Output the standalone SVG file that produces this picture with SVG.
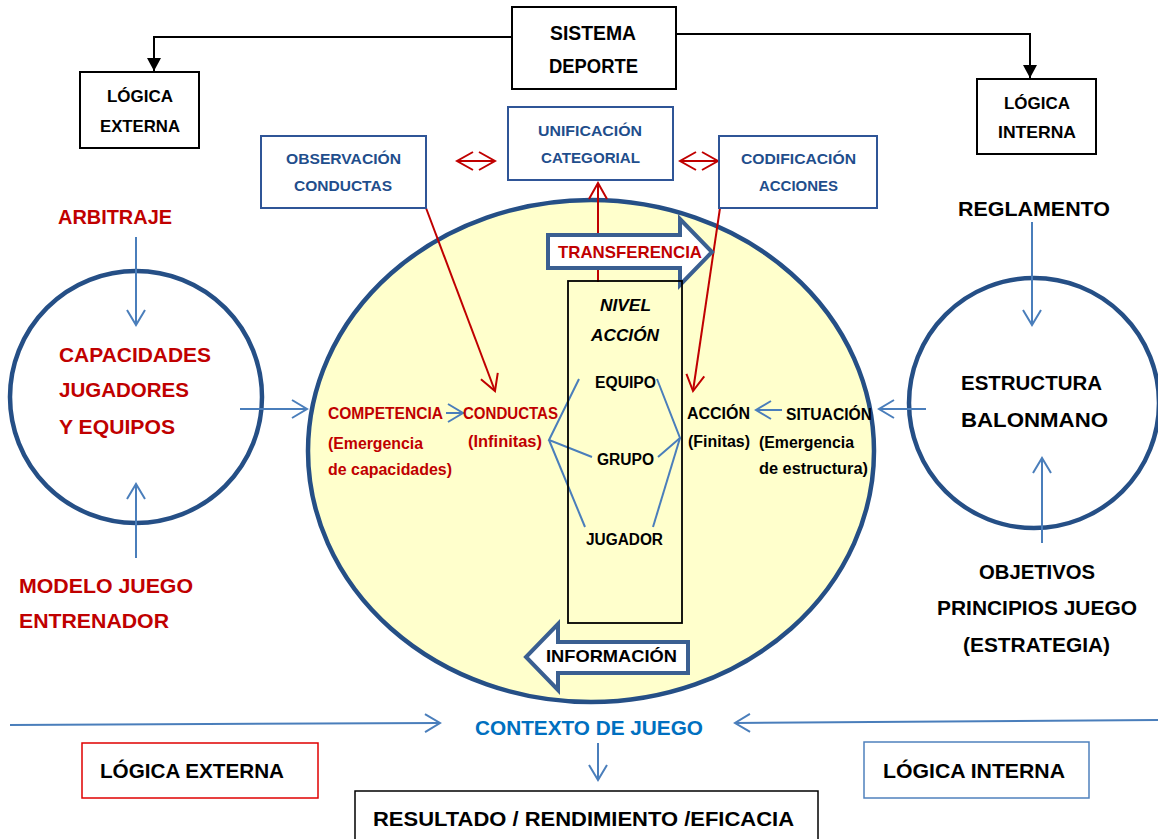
<svg xmlns="http://www.w3.org/2000/svg" width="1158" height="839" viewBox="0 0 1158 839">
<style>
text{font-family:"Liberation Sans",Arial,sans-serif;font-weight:bold;}
.blk{fill:#000;}
.red{fill:#C00000;}
.blu{fill:#1F4E8C;}
.ctx{fill:#0070C0;}
.bx{fill:none;stroke:#000;stroke-width:2;}
.bbx{fill:#fff;stroke:#2F5597;stroke-width:2;}
.circ{fill:#fff;stroke:#254F86;stroke-width:4.5;}
.bl{fill:none;stroke:#4A7EBB;stroke-width:2;}
.rl{fill:none;stroke:#C00000;stroke-width:2;}
.kl{fill:none;stroke:#000;stroke-width:2;}
.blk-arrow{fill:#fff;stroke:#3A5F91;stroke-width:4;stroke-linejoin:miter;}
</style>
<defs>
<marker id="mBlue" markerUnits="userSpaceOnUse" viewBox="-2 -2 20 22" markerWidth="20" markerHeight="22" refX="15" refY="9" orient="auto-start-reverse">
<path d="M0,0 L15,9 L0,18" fill="none" stroke="#4A7EBB" stroke-width="2"/>
</marker>
<marker id="mRed" markerUnits="userSpaceOnUse" viewBox="-2 -2 20 22" markerWidth="20" markerHeight="22" refX="16" refY="9" orient="auto-start-reverse">
<path d="M0,0 L16,9 L0,18" fill="none" stroke="#C00000" stroke-width="2"/>
</marker>
<marker id="mBlack" markerUnits="userSpaceOnUse" viewBox="0 0 14 14" markerWidth="14" markerHeight="14" refX="13" refY="7" orient="auto">
<path d="M0,0 L13,7 L0,14 Z" fill="#000"/>
</marker>
</defs>

<g id="contexto-elipse">
<ellipse cx="591" cy="451" rx="283" ry="251" fill="#FFFFCC" stroke="#254F86" stroke-width="4.5"/>
</g>
<g id="capacidades">
<circle class="circ" cx="136" cy="397" r="126"/>
</g>
<g id="estructura">
<circle class="circ" cx="1034" cy="403" r="125"/>
</g>

<g id="connectors">
<polyline class="kl" points="512,37 154,37 154,71" marker-end="url(#mBlack)"/>
<polyline class="kl" points="676,34 1030,34 1030,78" marker-end="url(#mBlack)"/>
<line class="rl" x1="598" y1="282" x2="598" y2="183" marker-end="url(#mRed)"/>
<line class="rl" x1="426" y1="208" x2="495" y2="391" marker-end="url(#mRed)"/>
<line class="rl" x1="720" y1="208" x2="693" y2="391" marker-end="url(#mRed)"/>
<line class="rl" x1="457" y1="161" x2="495" y2="161" marker-start="url(#mRed)" marker-end="url(#mRed)"/>
<line class="rl" x1="680" y1="161" x2="718" y2="161" marker-start="url(#mRed)" marker-end="url(#mRed)"/>
<line class="bl" x1="136" y1="237" x2="136" y2="325" marker-end="url(#mBlue)"/>
<line class="bl" x1="136" y1="558" x2="136" y2="484" marker-end="url(#mBlue)"/>
<line class="bl" x1="240" y1="409" x2="307" y2="409" marker-end="url(#mBlue)"/>
<line class="bl" x1="1032" y1="222" x2="1032" y2="325" marker-end="url(#mBlue)"/>
<line class="bl" x1="1042" y1="543" x2="1042" y2="458" marker-end="url(#mBlue)"/>
<line class="bl" x1="926" y1="409" x2="879" y2="409" marker-end="url(#mBlue)"/>
<line class="bl" x1="782" y1="410" x2="756" y2="410" marker-end="url(#mBlue)"/>
<line class="bl" x1="446" y1="413" x2="463" y2="413" marker-end="url(#mBlue)"/>
<polyline class="bl" points="579,379 549,440 592,457"/>
<line class="bl" x1="549" y1="440" x2="585" y2="527"/>
<polyline class="bl" points="657,379 680,438 658,457"/>
<line class="bl" x1="680" y1="438" x2="653" y2="527"/>
<line class="bl" x1="10" y1="725" x2="440" y2="723" marker-end="url(#mBlue)"/>
<line class="bl" x1="1158" y1="720" x2="735" y2="723" marker-end="url(#mBlue)"/>
<line class="bl" x1="598" y1="743" x2="598" y2="780" marker-end="url(#mBlue)"/>
</g>

<g id="transferencia">
<polygon class="blk-arrow" points="548,235 680,235 680,219 712,252 680,285 680,268 548,268"/>
<text class="red" x="558" y="258" font-size="17" textLength="144" lengthAdjust="spacingAndGlyphs">TRANSFERENCIA</text>
</g>
<g id="informacion">
<polygon class="blk-arrow" points="688,642 558,642 558,624 526,657 558,690 558,673 688,673"/>
<text class="blk" x="546" y="662" font-size="17" textLength="131" lengthAdjust="spacingAndGlyphs">INFORMACIÓN</text>
</g>

<g id="sistema-deporte">
<rect class="bx" x="512" y="7" width="164" height="82" fill="#fff"/>
<text class="blk" x="550" y="40" font-size="20" textLength="86" lengthAdjust="spacingAndGlyphs">SISTEMA</text>
<text class="blk" x="549" y="73" font-size="20" textLength="89" lengthAdjust="spacingAndGlyphs">DEPORTE</text>
</g>
<g id="logica-externa-top">
<rect class="bx" x="80" y="72" width="119" height="76"/>
<text class="blk" x="107" y="102" font-size="16.5" textLength="66" lengthAdjust="spacingAndGlyphs">LÓGICA</text>
<text class="blk" x="100" y="132" font-size="16.5" textLength="80" lengthAdjust="spacingAndGlyphs">EXTERNA</text>
</g>
<g id="logica-interna-top">
<rect class="bx" x="977" y="79" width="119" height="75"/>
<text class="blk" x="1004" y="109" font-size="16.5" textLength="66" lengthAdjust="spacingAndGlyphs">LÓGICA</text>
<text class="blk" x="998" y="138" font-size="16.5" textLength="78" lengthAdjust="spacingAndGlyphs">INTERNA</text>
</g>
<g id="observacion">
<rect class="bbx" x="261" y="136" width="165" height="72"/>
<text class="blu" x="286" y="164" font-size="15.5" textLength="115" lengthAdjust="spacingAndGlyphs">OBSERVACIÓN</text>
<text class="blu" x="294" y="191" font-size="15.5" textLength="98" lengthAdjust="spacingAndGlyphs">CONDUCTAS</text>
</g>
<g id="unificacion">
<rect class="bbx" x="508" y="107" width="165" height="73"/>
<text class="blu" x="538" y="136" font-size="15.5" textLength="104" lengthAdjust="spacingAndGlyphs">UNIFICACIÓN</text>
<text class="blu" x="541" y="163" font-size="15.5" textLength="99" lengthAdjust="spacingAndGlyphs">CATEGORIAL</text>
</g>
<g id="codificacion">
<rect class="bbx" x="719" y="136" width="158" height="72"/>
<text class="blu" x="741" y="164" font-size="15.5" textLength="115" lengthAdjust="spacingAndGlyphs">CODIFICACIÓN</text>
<text class="blu" x="759" y="191" font-size="15.5" textLength="79" lengthAdjust="spacingAndGlyphs">ACCIONES</text>
</g>

<g id="nivel-accion">
<rect x="568" y="281" width="114" height="342" fill="none" stroke="#000" stroke-width="1.8"/>
<text class="blk" x="600" y="311" font-size="17" font-style="italic" textLength="51" lengthAdjust="spacingAndGlyphs">NIVEL</text>
<text class="blk" x="591" y="341" font-size="17" font-style="italic" textLength="68" lengthAdjust="spacingAndGlyphs">ACCIÓN</text>
</g>
<g id="equipo"><text class="blk" x="595" y="388" font-size="16" textLength="61" lengthAdjust="spacingAndGlyphs">EQUIPO</text></g>
<g id="grupo"><text class="blk" x="597" y="465" font-size="16" textLength="57" lengthAdjust="spacingAndGlyphs">GRUPO</text></g>
<g id="jugador"><text class="blk" x="586" y="545" font-size="16" textLength="77" lengthAdjust="spacingAndGlyphs">JUGADOR</text></g>

<g id="competencia">
<text class="red" x="328" y="419" font-size="16" textLength="115" lengthAdjust="spacingAndGlyphs">COMPETENCIA</text>
<text class="red" x="328" y="449" font-size="16" textLength="95" lengthAdjust="spacingAndGlyphs">(Emergencia</text>
<text class="red" x="328" y="475" font-size="16" textLength="124" lengthAdjust="spacingAndGlyphs">de capacidades)</text>
</g>
<g id="conductas">
<text class="red" x="463" y="419" font-size="16" textLength="95" lengthAdjust="spacingAndGlyphs">CONDUCTAS</text>
<text class="red" x="468" y="447" font-size="16" textLength="74" lengthAdjust="spacingAndGlyphs">(Infinitas)</text>
</g>
<g id="accion">
<text class="blk" x="687" y="419" font-size="16" textLength="63" lengthAdjust="spacingAndGlyphs">ACCIÓN</text>
<text class="blk" x="688" y="447" font-size="16" textLength="62" lengthAdjust="spacingAndGlyphs">(Finitas)</text>
</g>
<g id="situacion">
<text class="blk" x="786" y="420" font-size="16" textLength="86" lengthAdjust="spacingAndGlyphs">SITUACIÓN</text>
<text class="blk" x="759" y="448" font-size="16" textLength="95" lengthAdjust="spacingAndGlyphs">(Emergencia</text>
<text class="blk" x="759" y="474" font-size="16" textLength="109" lengthAdjust="spacingAndGlyphs">de estructura)</text>
</g>

<g id="arbitraje"><text class="red" x="58" y="224" font-size="21" textLength="114" lengthAdjust="spacingAndGlyphs">ARBITRAJE</text></g>
<g id="capacidades-texto">
<text class="red" x="59" y="362" font-size="21" textLength="152" lengthAdjust="spacingAndGlyphs">CAPACIDADES</text>
<text class="red" x="59" y="397" font-size="21" textLength="130" lengthAdjust="spacingAndGlyphs">JUGADORES</text>
<text class="red" x="59" y="434" font-size="21" textLength="116" lengthAdjust="spacingAndGlyphs">Y EQUIPOS</text>
</g>
<g id="modelo-juego">
<text class="red" x="19" y="593" font-size="21" textLength="174" lengthAdjust="spacingAndGlyphs">MODELO JUEGO</text>
<text class="red" x="19" y="628" font-size="21" textLength="150" lengthAdjust="spacingAndGlyphs">ENTRENADOR</text>
</g>
<g id="reglamento"><text class="blk" x="958" y="216" font-size="21" textLength="152" lengthAdjust="spacingAndGlyphs">REGLAMENTO</text></g>
<g id="estructura-texto">
<text class="blk" x="961" y="390" font-size="21" textLength="141" lengthAdjust="spacingAndGlyphs">ESTRUCTURA</text>
<text class="blk" x="961" y="427" font-size="21" textLength="147" lengthAdjust="spacingAndGlyphs">BALONMANO</text>
</g>
<g id="objetivos">
<text class="blk" x="979" y="579" font-size="21" textLength="116" lengthAdjust="spacingAndGlyphs">OBJETIVOS</text>
<text class="blk" x="937" y="615" font-size="21" textLength="200" lengthAdjust="spacingAndGlyphs">PRINCIPIOS JUEGO</text>
<text class="blk" x="963" y="652" font-size="21" textLength="147" lengthAdjust="spacingAndGlyphs">(ESTRATEGIA)</text>
</g>

<g id="contexto-juego"><text class="ctx" x="475" y="735" font-size="21" textLength="228" lengthAdjust="spacingAndGlyphs">CONTEXTO DE JUEGO</text></g>
<g id="logica-externa-bottom">
<rect x="82" y="743" width="236" height="55" fill="#fff" stroke="#E00000" stroke-width="1.5"/>
<text class="blk" x="100" y="778" font-size="20" textLength="184" lengthAdjust="spacingAndGlyphs">LÓGICA EXTERNA</text>
</g>
<g id="logica-interna-bottom">
<rect x="864" y="742" width="225" height="56" fill="#fff" stroke="#4F81BD" stroke-width="1.5"/>
<text class="blk" x="883" y="778" font-size="20" textLength="182" lengthAdjust="spacingAndGlyphs">LÓGICA INTERNA</text>
</g>
<g id="resultado">
<rect x="355" y="791" width="463" height="60" fill="#fff" stroke="#000" stroke-width="1.5"/>
<text class="blk" x="373" y="826" font-size="21" textLength="421" lengthAdjust="spacingAndGlyphs">RESULTADO / RENDIMIENTO /EFICACIA</text>
</g>
</svg>
